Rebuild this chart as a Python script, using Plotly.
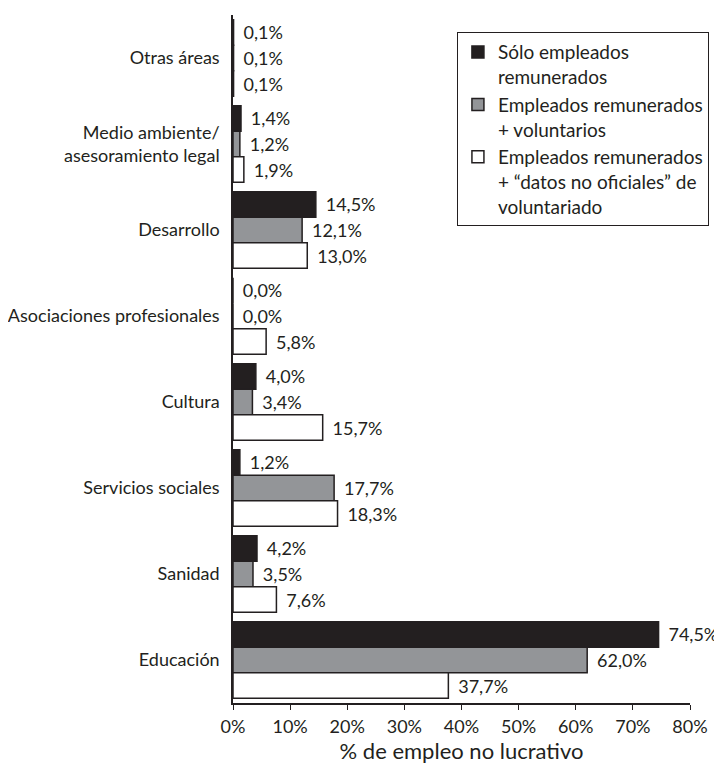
import plotly.graph_objects as go

# ── Data ─────────────────────────────────────────────────────────────────────

categories = [
    "Otras áreas",
    "Medio ambiente/<br>asesoramiento legal",
    "Desarrollo",
    "Asociaciones profesionales",
    "Cultura",
    "Servicios sociales",
    "Sanidad",
    "Educación",
]
series_names = [
    "Sólo empleados<br>remunerados",
    "Empleados remunerados<br>+ voluntarios",
    "Empleados remunerados<br>+ “datos no oficiales” de<br>voluntariado",
]
solo_remunerados = [0.1, 1.4, 14.5, 0.0, 4.0, 1.2, 4.2, 74.5]
remunerados_voluntarios = [0.1, 1.2, 12.1, 0.0, 3.4, 17.7, 3.5, 62.0]
remunerados_no_oficiales = [0.1, 1.9, 13.0, 5.8, 15.7, 18.3, 7.6, 37.7]
x_ticks = [0, 10, 20, 30, 40, 50, 60, 70, 80]

# ── Style ────────────────────────────────────────────────────────────────────

INK = "#231f20"
FILLS = [INK, "#939598", "#ffffff"]
FONT = "Lato, 'Open Sans', sans-serif"
FONT_SIZE = 18

# the page body has an 8px default margin, so the figure is drawn 8px smaller
fig = go.Figure()
for name, vals, fill in zip(
    series_names,
    [solo_remunerados, remunerados_voluntarios, remunerados_no_oficiales],
    FILLS,
):
    fig.add_trace(
        go.Bar(
            y=categories,
            x=vals,
            orientation="h",
            name=name,
            marker=dict(color=fill, line=dict(color=INK, width=1.5)),
            texttemplate="\u00a0\u2009%{x:.1f}%",
            textposition="outside",
            constraintext="none",
            cliponaxis=False,
            textfont=dict(color=INK, size=FONT_SIZE, family=FONT),
        )
    )

fig.update_layout(
    width=714,
    height=756,
    barmode="group",
    bargap=0.11,
    bargroupgap=0,
    separators=",.",
    paper_bgcolor="white",
    plot_bgcolor="white",
    font=dict(family=FONT, size=FONT_SIZE, color=INK),
    margin=dict(l=225, r=32, t=7, b=61, autoexpand=False),
    legend=dict(
        x=0.49,
        y=0.975,
        xanchor="left",
        yanchor="top",
        valign="top",
        bordercolor=INK,
        borderwidth=1,
        bgcolor="white",
        font=dict(size=19),
        traceorder="normal",
        itemwidth=30,
    ),
    xaxis=dict(
        range=[0, 80],
        tickvals=x_ticks,
        ticktext=[f"{v}%" for v in x_ticks],
        showgrid=False,
        zeroline=False,
        showline=True,
        linecolor=INK,
        linewidth=1.5,
        ticks="outside",
        ticklen=5,
        tickcolor=INK,
        ticklabelstandoff=2,
        automargin=True,
        title=dict(text="% de empleo no lucrativo", standoff=10),
    ),
    yaxis=dict(
        autorange="reversed",
        showgrid=False,
        showline=True,
        linecolor=INK,
        linewidth=1.5,
        ticks="",
        ticklabelstandoff=8,
        automargin=False,
    ),
)

fig.write_html("out.html")
